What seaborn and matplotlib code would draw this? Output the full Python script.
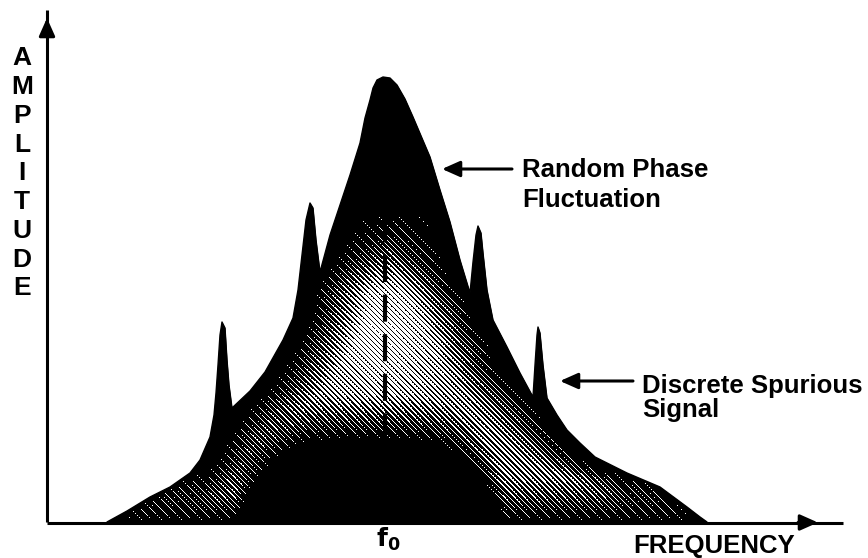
"""Phase noise spectrum sketch: random phase fluctuation with discrete spurs."""
import numpy as np
import pandas as pd
import seaborn as sns
import matplotlib.pyplot as plt
from matplotlib import font_manager
from matplotlib.patches import Polygon

# Outline of the spectrum: offset from f0 (arbitrary units) and amplitude
freq = [-2.76, -2.56, -2.33, -2.13, -1.93, -1.83, -1.73, -1.69, -1.67, -1.65,
        -1.63, -1.61, -1.58, -1.56, -1.54, -1.51, -1.33, -1.18, -1.00, -0.90,
        -0.85, -0.81, -0.77, -0.73, -0.70, -0.67, -0.63, -0.53, -0.43, -0.33,
        -0.23, -0.18, -0.13, -0.10, -0.06, 0.00, 0.07, 0.14, 0.22, 0.30,
        0.47, 0.57, 0.67, 0.77, 0.87, 0.90, 0.93, 0.95, 0.98, 1.00,
        1.04, 1.10, 1.24, 1.37, 1.50, 1.52, 1.54, 1.55, 1.57, 1.60,
        1.64, 1.74, 1.84, 1.97, 2.12, 2.44, 2.77, 3.04, 3.17, 3.24]
amp = [0.00, 0.11, 0.25, 0.35, 0.49, 0.62, 0.85, 1.07, 1.29, 1.57,
       1.87, 2.00, 1.94, 1.62, 1.37, 1.14, 1.31, 1.50, 1.82, 2.04,
       2.32, 2.67, 3.02, 3.19, 3.14, 2.82, 2.50, 2.87, 3.17, 3.47,
       3.79, 4.04, 4.22, 4.34, 4.42, 4.45, 4.44, 4.37, 4.23, 4.05,
       3.65, 3.32, 3.00, 2.62, 2.29, 2.60, 2.87, 2.96, 2.89, 2.69,
       2.32, 2.02, 1.75, 1.49, 1.25, 1.57, 1.87, 1.95, 1.89, 1.57,
       1.24, 1.07, 0.92, 0.79, 0.65, 0.49, 0.35, 0.15, 0.05, 0.00]

# Discrete spurious signals (offset from f0)
spur_freq = [-1.61, -0.73, 0.95, 1.55]

y_letters = list("AMPLITUDE")
y_letter_amp = [4.64, 4.35, 4.06, 3.77, 3.49, 3.20, 2.91, 2.62, 2.34]
noise_label = ["Random Phase", "Fluctuation"]
spur_label = ["Discrete Spurious", "Signal"]

sns.set_theme(style="white")
names = {f.name for f in font_manager.fontManager.ttflist}
family = "Liberation Sans" if "Liberation Sans" in names else "DejaVu Sans"
plt.rcParams["font.family"] = [family, "DejaVu Sans"]

fig = plt.figure(figsize=(8.68, 5.58), dpi=100)
ax = fig.add_axes([0, 0, 1, 1])

df = pd.DataFrame({"freq": freq, "amp": amp})
ax.fill_between(df["freq"], 0, df["amp"], color="black", lw=0, zorder=1)
sns.lineplot(data=df, x="freq", y="amp", color="black", lw=1, sort=False,
             ax=ax, zorder=4)

# dithered shading inside the spectrum, based on the noise envelope only
f = np.array(freq)
a = np.array(amp)
keep = np.all(np.abs(f[:, None] - np.array(spur_freq)[None, :]) > 0.1, axis=1)
fn, an = f[keep], a[keep]
top = np.argmax(an)
left_f, left_a = fn[:top + 1], an[:top + 1]
right_f, right_a = fn[top:][::-1], an[top:][::-1]

nx, ny = 610, 450
uu = -2.8 + (np.arange(nx) + 0.5) / 100
aa = (np.arange(ny) + 0.5) / 100
U, A = np.meshgrid(uu, aa)
depth = np.minimum(U - np.interp(A, left_a, left_f),
                   np.interp(A, right_a, right_f) - U)
mound = 0.82 * np.clip(1 - ((U + 0.13) / 1.35) ** 4, 0, 1)
mound_fade = np.clip((A - mound) / 0.45, 0, 1)

core = np.clip((depth - 0.18) / 0.55, 0, 1)
core *= np.clip((3.1 - A) / 0.8, 0, 1)
core *= 0.5 + 0.32 * np.exp(-(U / 0.7) ** 2 - ((A - 1.9) / 0.8) ** 2)
corner = 0.5 * np.clip((depth - 0.03) / 0.15, 0, 1) * np.clip(1 - A / 0.5, 0, 1)
light = np.maximum(core, corner) * mound_fade

I, J = np.meshgrid(np.arange(ny), np.arange(nx), indexing="ij")
bayer = np.array([[0, 8, 2, 10], [12, 4, 14, 6], [3, 11, 1, 9], [15, 7, 13, 5]])
period = 5
thr = (((I + J) % period) + (bayer[I % 4, J % 4] + 0.5) / 16) / period
white = light > thr
rgba = np.zeros((ny, nx, 4))
rgba[..., 3] = 1.0
rgba[white, :3] = 1.0

im = ax.imshow(rgba, extent=(-2.8, 3.3, 0, 4.5), origin="lower",
               interpolation="nearest", aspect="auto", zorder=2)
im.set_clip_path(Polygon(np.column_stack([f, a]), closed=True,
                         transform=ax.transData))

# centre frequency marker
ax.plot([0.02, 0.02], [0.42, 3.07], color="black", lw=3, dashes=(6.5, 3),
        zorder=3)

# axes with arrows
ax.plot([-3.36, -3.36], [0, 5.12], color="black", lw=2.2,
        solid_capstyle="butt", zorder=5)
ax.plot([-3.36, 4.60], [-0.005, -0.005], color="black", lw=2.2,
        solid_capstyle="butt", zorder=5)
head = dict(arrowstyle="-|>,head_length=0.9,head_width=0.4", color="black",
            lw=2.2, shrinkA=0, shrinkB=0)
ax.annotate("", xy=(-3.36, 5.04), xytext=(-3.36, 4.85), arrowprops=head,
            zorder=5)
ax.annotate("", xy=(4.35, -0.005), xytext=(4.15, -0.005), arrowprops=head,
            zorder=5)

# annotations
ax.annotate("", xy=(0.59, 3.53), xytext=(1.29, 3.53), arrowprops=head)
ax.annotate("", xy=(1.77, 1.41), xytext=(2.50, 1.41), arrowprops=head)

txt = dict(color="black", fontweight="bold", fontsize=18.5, va="baseline")
ax.text(1.39, 3.45, noise_label[0], **txt)
ax.text(1.39, 3.15, noise_label[1], **txt)
ax.text(2.59, 1.29, spur_label[0], **txt)
ax.text(2.59, 1.05, spur_label[1], **txt)
ax.text(2.50, -0.31, "FREQUENCY", **txt)
ax.text(0.05, -0.25, r"$\mathbf{f_0}$", color="black", fontsize=18,
        ha="center", va="baseline")

for letter, y in zip(y_letters, y_letter_amp):
    ax.text(-3.61, y, letter, color="black", fontweight="bold", fontsize=19,
            ha="center", va="center")

ax.set_xlim(-3.83, 4.85)
ax.set_ylim(-0.36, 5.22)
ax.axis("off")

fig.savefig("out.png", dpi=100, facecolor="white")
